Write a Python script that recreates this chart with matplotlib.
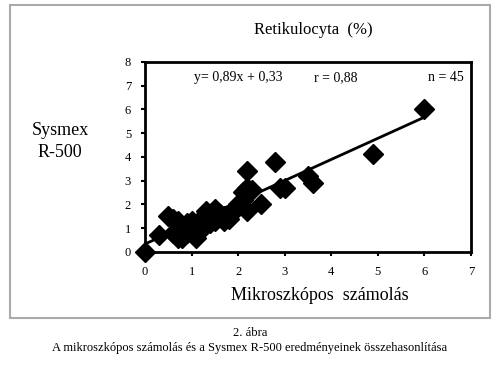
import numpy as np
import matplotlib
matplotlib.use('Agg')
import matplotlib.pyplot as plt
from matplotlib.patches import Rectangle

# Data (microscope count vs Sysmex R-500, %)
mikro = [0, 0.3, 0.5, 0.6, 0.7, 0.7, 0.8, 0.9, 0.9, 1.0,
         1.0, 1.1, 1.1, 1.2, 1.2, 1.3, 1.3, 1.4, 1.5, 1.5,
         1.6, 1.7, 1.8, 1.9, 2.0, 2.0, 2.1, 2.1, 2.2, 2.2,
         2.2, 2.3, 2.5, 2.8, 2.9, 3.0, 3.5, 3.6, 4.9, 6.0,
         0.8, 1.0, 0.6, 1.4, 1.7]
sysmex = [0, 0.7, 1.5, 0.8, 0.6, 1.3, 1.0, 1.2, 0.8, 1.0,
          1.3, 0.6, 1.1, 0.9, 1.4, 1.2, 1.7, 1.5, 1.8, 1.3,
          1.6, 1.5, 1.4, 1.7, 2.0, 1.9, 2.5, 2.2, 2.7, 1.7,
          3.4, 2.6, 2.0, 3.8, 2.7, 2.7, 3.2, 2.9, 4.1, 6.0,
          0.6, 0.8, 1.4, 1.2, 1.3]
slope, intercept = 0.89, 0.33
line_x = [0, 6]
xticks = [0, 1, 2, 3, 4, 5, 6, 7]
yticks = [0, 1, 2, 3, 4, 5, 6, 7, 8]

plt.rcParams['font.family'] = 'Liberation Serif'

fig = plt.figure(figsize=(5, 3.77), dpi=100)
ax = fig.add_axes([0.29, 0.332, 0.652, 0.504])

line_y = [slope * v + intercept for v in line_x]
ax.plot(line_x, line_y, color='black', lw=2)
ax.plot(mikro, sysmex, linestyle='none', marker='D', ms=10,
        color='black', clip_on=False)

ax.set_xlim(0, 7)
ax.set_ylim(0, 8)
ax.set_xticks(xticks)
ax.set_yticks(yticks)
ax.tick_params(labelsize=9, width=1.5, length=3, direction='out', pad=7)
for s in ax.spines.values():
    s.set_linewidth(2)

ax.text(1.05, 7.35, 'y= 0,89x + 0,33', fontsize=10, va='center')
ax.text(4.1, 7.35, 'r = 0,88', fontsize=10, va='center', ha='center')
ax.text(6.45, 7.35, 'n = 45', fontsize=10, va='center', ha='center')

fig.text(0.626, 0.92, 'Retikulocyta  (%)', fontsize=12, ha='center', va='center')
fig.text(0.64, 0.215, 'Mikroszkópos  számolás', fontsize=13, ha='center', va='center')
fig.text(0.12, 0.655, 'Sysmex', fontsize=13, ha='center', va='center')
fig.text(0.12, 0.595, 'R-500', fontsize=13, ha='center', va='center')

fig.text(0.5, 0.117, '2. ábra', fontsize=9, ha='center', va='center')
fig.text(0.5, 0.077, 'A mikroszkópos számolás és a Sysmex R-500 eredményeinek összehasonlítása',
         fontsize=9, ha='center', va='center')

fig.add_artist(Rectangle((0.02, 1 - 318 / 377), 0.96, 313 / 377,
                         transform=fig.transFigure, fill=False,
                         edgecolor='#aaaaaa', lw=1.5))

fig.savefig('out.png', dpi=100)
